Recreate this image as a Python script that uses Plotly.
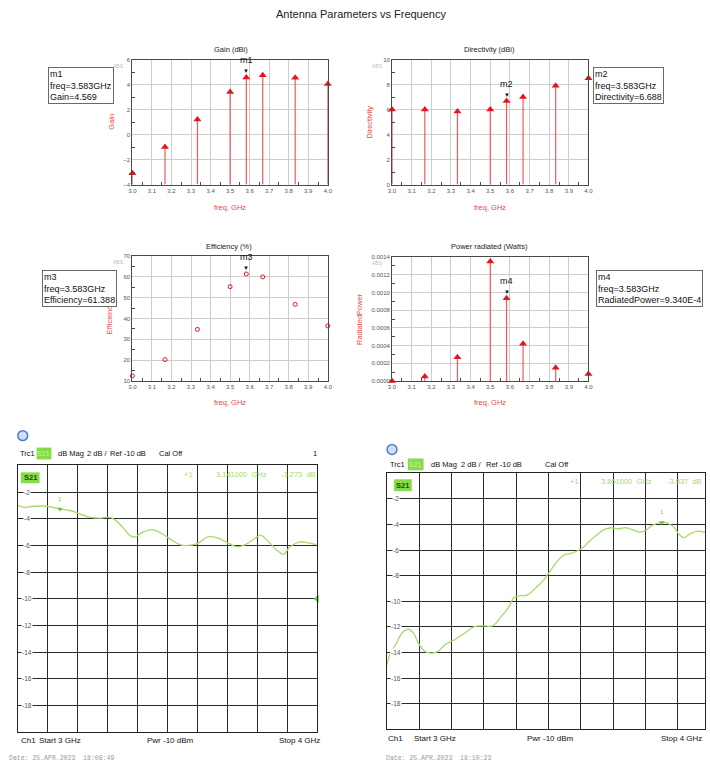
import plotly.graph_objects as go

# ---------------- simulated antenna parameters (ADS sweep) ----------------
FREQ_GHZ = [3.0, 3.167, 3.333, 3.5, 3.583, 3.667, 3.833, 4.0]
GAIN_DBI = [-3.1, -1.0, 1.2, 3.4, 4.569, 4.75, 4.55, 4.05]
DIRECTIVITY_DBI = [6.0, 6.0, 5.85, 6.0, 6.688, 7.0, 7.9, 8.5]
EFFICIENCY_PCT = [12.5, 20.3, 34.8, 55.3, 61.388, 60.0, 46.8, 36.5]
RADIATED_POWER_W = [0.0, 0.00005, 0.00027, 0.00135, 0.000934, 0.00042, 0.00015, 0.00008]
MARKER_IDX = 4  # 3.583 GHz

# ---------------- measured S21 (VNA screenshots) ----------------
S21_A_FREQ = [3.0, 3.020, 3.053, 3.097, 3.141, 3.174, 3.207, 3.240, 3.273, 3.305,
              3.327, 3.349, 3.377, 3.393, 3.415, 3.448, 3.481, 3.514, 3.547, 3.580,
              3.602, 3.635, 3.668, 3.701, 3.734, 3.756, 3.789, 3.811, 3.833, 3.866,
              3.888, 3.910, 3.943, 3.965, 3.998]
S21_A_DB = [-3.0, -3.14, -3.06, -3.06, -3.273, -3.38, -3.63, -3.88, -3.95, -3.88,
            -4.12, -4.6, -5.28, -5.36, -5.04, -4.81, -5.1, -5.6, -5.98, -5.98,
            -5.85, -5.36, -5.43, -5.8, -6.1, -5.98, -5.53, -5.23, -5.6, -6.35,
            -6.67, -6.1, -5.73, -5.78, -5.93]
S21_A_MARKER = (3.141, -3.273)

S21_B_FREQ = [3.0, 3.010, 3.026, 3.046, 3.066, 3.082, 3.097, 3.117, 3.138, 3.158,
              3.179, 3.209, 3.240, 3.270, 3.301, 3.327, 3.352, 3.378, 3.393, 3.413,
              3.434, 3.464, 3.485, 3.500, 3.526, 3.546, 3.566, 3.587, 3.607, 3.628,
              3.648, 3.668, 3.689, 3.719, 3.740, 3.760, 3.781, 3.801, 3.821, 3.851,
              3.872, 3.888, 3.903, 3.918, 3.939, 3.959, 3.985]
S21_B_DB = [-14.95, -14.04, -13.4, -12.49, -12.18, -12.49, -13.26, -13.91, -14.04, -13.91,
            -13.39, -13.0, -12.49, -11.97, -11.92, -11.92, -11.24, -10.41, -9.71, -9.56,
            -9.51, -8.86, -8.34, -7.82, -6.92, -6.40, -6.27, -6.09, -5.80, -5.28,
            -4.84, -4.46, -4.27, -4.33, -4.25, -4.40, -4.59, -4.46, -4.07, -3.837,
            -3.94, -4.2, -4.72, -5.03, -4.72, -4.53, -4.59]
S21_B_MARKER = (3.851, -3.837)

VNA_Y_TICKS = [-2, -4, -6, -8, -10, -12, -14, -16, -18]

W, H = 710, 775
FONT = "Liberation Sans"
RED = "#e8141c"
STEM = "#ec5a5a"
AX_RED = "#e44a4a"
TRACE_GREEN = "#a6da6a"
BOX_GREEN = "#86dc48"


def px(x):
    return x / W


def py(y):
    return 1 - y / H


fig = go.Figure()
ann = []
shapes = []


def text(x, y, s, size=9, color="#111", xanchor="left", yanchor="middle", family=FONT, **kw):
    ann.append(dict(x=px(x), y=py(y), xref="paper", yref="paper", text=s, showarrow=False,
                    xanchor=xanchor, yanchor=yanchor,
                    font=dict(size=size, color=color, family=family), **kw))


def ads_panel(n, box, yrange, ydtick, yfmt, yminor, title, ytitle, tpos, ytpos, xtpos):
    x0, y0, x1, y1 = box
    common = dict(showline=True, linecolor="#4a4a4a", linewidth=1, mirror=True,
                  showgrid=True, gridcolor="#cdcdcd", gridwidth=1, zeroline=False,
                  tickfont=dict(size=6, color="#555", family=FONT), ticks="", fixedrange=True)
    fig.layout[f"xaxis{n}"] = dict(domain=[px(x0), px(x1)], anchor=f"y{n}", range=[3.0, 4.0],
                                   dtick=0.1, tick0=3.0, tickformat=".1f",
                                   minor=dict(ticks="inside", ticklen=3, dtick=0.05,
                                              tickcolor="#4a4a4a", showgrid=False),
                                   **common)
    fig.layout[f"yaxis{n}"] = dict(domain=[py(y1), py(y0)], anchor=f"x{n}", range=yrange,
                                   dtick=ydtick, tick0=yrange[0], tickformat=yfmt,
                                   minor=dict(ticks="inside", ticklen=3, dtick=yminor,
                                              tickcolor="#4a4a4a", showgrid=False),
                                   **common)
    text(tpos[0], tpos[1], title, size=7.5, color="#222", xanchor="center")
    ann.append(dict(x=px(ytpos[0]), y=py(ytpos[1]), xref="paper", yref="paper", text=ytitle,
                    textangle=-90, showarrow=False, xanchor="center", yanchor="middle",
                    font=dict(size=7.5, color=AX_RED, family=FONT)))
    text(xtpos[0], xtpos[1], "freq, GHz", size=7.5, color=AX_RED, xanchor="center")
    text(x0 - 22, y0 + 6, "ABS", size=5, color="#bbbbbb")


def stems(n, values, ymin):
    fig.add_trace(go.Scatter(
        x=FREQ_GHZ, y=values, xaxis=f"x{n}", yaxis=f"y{n}", mode="markers",
        marker=dict(symbol="triangle-up", size=7, color=RED),
        error_y=dict(type="data", symmetric=False, array=[0] * len(values),
                     arrayminus=[v - ymin for v in values], width=0, thickness=1.2, color=STEM),
        cliponaxis=False, showlegend=False, hoverinfo="skip"))


def ads_marker(n, name, x, y):
    ann.append(dict(x=x, y=y, xref=f"x{n}", yref=f"y{n}", text="▼", showarrow=False,
                    yshift=6, borderpad=0, font=dict(size=6, color="#111"), xanchor="center"))
    ann.append(dict(x=x, y=y, xref=f"x{n}", yref=f"y{n}", text=name, showarrow=False,
                    yshift=17, borderpad=0, font=dict(size=9, color="#111", family=FONT),
                    xanchor="center"))


def marker_box(x, y, lines):
    ann.append(dict(x=px(x), y=py(y), xref="paper", yref="paper", text="<br>".join(lines),
                    showarrow=False, xanchor="left", yanchor="top", align="left",
                    bordercolor="#6a6a6a", borderwidth=1, borderpad=1, bgcolor="white",
                    font=dict(size=9, color="#111", family=FONT)))


# figure title
text(362, 11, "Antenna Parameters vs Frequency", size=11, color="#222", xanchor="center")

# ---- Gain ----
ads_panel(1, (130, 57, 328, 183), [-4, 6], 2, "d", 1, "Gain (dBi)", "Gain",
          (230, 47), (108, 120), (229, 206))
stems(1, GAIN_DBI, -4)
ads_marker(1, "m1", FREQ_GHZ[MARKER_IDX], GAIN_DBI[MARKER_IDX])
marker_box(45, 64, ["m1", f"freq={FREQ_GHZ[MARKER_IDX]:.3f}GHz", f"Gain={GAIN_DBI[MARKER_IDX]:.3f}"])

# ---- Directivity ----
ads_panel(2, (393, 57, 592, 183), [0, 10], 2, "d", 1, "Directivity (dBi)", "Directivity",
          (492, 47), (370, 120), (492, 206))
stems(2, DIRECTIVITY_DBI, 0)
ads_marker(2, "m2", FREQ_GHZ[MARKER_IDX], DIRECTIVITY_DBI[MARKER_IDX])
marker_box(597, 64, ["m2", f"freq={FREQ_GHZ[MARKER_IDX]:.3f}GHz",
                     f"Directivity={DIRECTIVITY_DBI[MARKER_IDX]:.3f}"])

# ---- Efficiency ----
ads_panel(3, (130, 255, 328, 381), [10, 70], 10, "d", 5, "Efficiency (%)", "Efficiency",
          (228, 245), (107, 318), (229, 403))
fig.add_trace(go.Scatter(x=FREQ_GHZ, y=EFFICIENCY_PCT, xaxis="x3", yaxis="y3", mode="markers",
                         marker=dict(symbol="circle-open", size=4, color=RED, line=dict(width=1)),
                         cliponaxis=False, showlegend=False, hoverinfo="skip"))
ads_marker(3, "m3", FREQ_GHZ[MARKER_IDX], EFFICIENCY_PCT[MARKER_IDX])
marker_box(38, 269, ["m3", f"freq={FREQ_GHZ[MARKER_IDX]:.3f}GHz",
                     f"Efficiency={EFFICIENCY_PCT[MARKER_IDX]:.3f}"])

# ---- Radiated power ----
ads_panel(4, (393, 256, 592, 381), [0, 0.0014], 0.0002, ".4f", 0.0001, "Power radiated (Watts)",
          "RadiatedPower", (492, 245), (360, 318), (492, 403))
stems(4, RADIATED_POWER_W, 0)
ads_marker(4, "m4", FREQ_GHZ[MARKER_IDX], RADIATED_POWER_W[MARKER_IDX])
mant, expo = f"{RADIATED_POWER_W[MARKER_IDX]:.3E}".split("E")
marker_box(600, 269, ["m4", f"freq={FREQ_GHZ[MARKER_IDX]:.3f}GHz",
                      f"RadiatedPower={mant}E{int(expo)}"])


# ---------------- VNA screens ----------------
def vna_panel(n, box, xmax, freq, db, mk, hdr, info, bottom, date):
    x0, y0, x1, y1 = box
    common = dict(showline=True, linecolor="#222", linewidth=1, mirror=True, showgrid=True,
                  gridcolor="#2a2a2a", gridwidth=1, zeroline=False, showticklabels=False,
                  ticks="", fixedrange=True)
    fig.layout[f"xaxis{n}"] = dict(domain=[px(x0), px(x1)], anchor=f"y{n}", range=[3.0, xmax],
                                   dtick=0.1, tick0=3.0, **common)
    fig.layout[f"yaxis{n}"] = dict(domain=[py(y1), py(y0)], anchor=f"x{n}", range=[-20, 0],
                                   dtick=2, tick0=0, **common)
    fig.add_trace(go.Scatter(x=freq, y=db, xaxis=f"x{n}", yaxis=f"y{n}", mode="lines",
                             line=dict(color=TRACE_GREEN, width=1.3, shape="spline", smoothing=1.0),
                             showlegend=False, hoverinfo="skip"))
    fig.add_trace(go.Scatter(x=[mk[0]], y=[mk[1]], xaxis=f"x{n}", yaxis=f"y{n}", mode="markers",
                             marker=dict(symbol="triangle-down", size=5, color="#6cc83a"),
                             showlegend=False, hoverinfo="skip"))
    ann.append(dict(x=mk[0], y=mk[1], xref=f"x{n}", yref=f"y{n}", text="1", showarrow=False,
                    yshift=10, font=dict(size=6, color="#6cc83a", family=FONT)))
    for t in VNA_Y_TICKS:
        ann.append(dict(x=px(x0 + 9), y=t, xref="paper", yref=f"y{n}", text=str(t),
                        showarrow=False, xanchor="center", bgcolor="white", borderpad=0,
                        font=dict(size=6.5, color="#555", family=FONT)))
    # instrument logo
    lx, ly = hdr["logo"]
    shapes.append(dict(type="circle", xref="paper", yref="paper", x0=px(lx - 5), x1=px(lx + 5),
                       y0=py(ly + 5), y1=py(ly - 5), line=dict(color="#4a7cc8", width=1.5),
                       fillcolor="#cfe0f5"))
    # header line
    hy = hdr["y"]
    text(hdr["trc"], hy, "Trc1", size=7.5)
    bx0, bx1 = hdr["box"]
    shapes.append(dict(type="rect", xref="paper", yref="paper", x0=px(bx0), x1=px(bx1),
                       y0=py(hy + 6), y1=py(hy - 6), fillcolor=BOX_GREEN, line=dict(width=0)))
    text((bx0 + bx1) / 2, hy, "S21", size=7, color="#c6f29a", xanchor="center")
    mx = hdr["mag"]
    text(mx[0], hy, "dB Mag", size=7.5)
    text(mx[1], hy, "2 dB /", size=7.5)
    text(mx[2], hy, "Ref -10 dB", size=7.5)
    text(hdr["cal"], hy, "Cal Off", size=7.5)
    if hdr.get("one"):
        text(hdr["one"], hy, "1", size=7.5, xanchor="center")
    # S21 label inside grid
    sx0, sy0, sx1, sy1 = hdr["s21"]
    shapes.append(dict(type="rect", xref="paper", yref="paper", x0=px(sx0), x1=px(sx1),
                       y0=py(sy1), y1=py(sy0), fillcolor=BOX_GREEN, line=dict(width=0)))
    text((sx0 + sx1) / 2, (sy0 + sy1) / 2, "<b>S21</b>", size=7.5, color="#1d4a10", xanchor="center")
    # marker readout
    iy = info["y"]
    text(info["p1"], iy, "+1", size=7.5, color=TRACE_GREEN, xanchor="center")
    text(info["f"], iy, f"{mk[0]:.6f}  GHz", size=7.5, color=TRACE_GREEN)
    text(info["v"], iy, f"{mk[1]:.3f}  dB", size=7.5, color=TRACE_GREEN, xanchor=info.get("va", "left"))
    # footer
    by = bottom["y"]
    text(bottom["ch"], by, "Ch1", size=8)
    text(bottom["start"], by, "Start 3 GHz", size=8)
    text(bottom["pwr"], by, "Pwr -10 dBm", size=8)
    text(bottom["stop"], by, "Stop 4 GHz", size=8, xanchor=bottom.get("sa", "left"))
    text(date[0], date[1], date[2], size=6.5, color="#9a9a9a", family="Liberation Mono")


vna_panel(5, (14, 466, 317, 735), 4.0, S21_A_FREQ, S21_A_DB, S21_A_MARKER,
          dict(logo=(19, 436), y=454, trc=14, box=(33, 48), mag=(53, 82, 105), cal=155, one=315,
               s21=(17, 473, 36, 484)),
          dict(y=475, p1=187, f=213, v=279),
          dict(y=743, ch=15, start=33, pwr=143, stop=277),
          (3, 761, "Date: 25.APR.2023  18:08:49"))
# reference-level pointer on the right edge of the first screen
fig.add_trace(go.Scatter(x=[4.0], y=[-10], xaxis="x5", yaxis="y5", mode="markers",
                         marker=dict(symbol="triangle-left", size=7, color="#6cc83a"),
                         cliponaxis=False, showlegend=False, hoverinfo="skip"))

vna_panel(6, (388, 474, 710, 732), 3.0 + (710 - 388) / 327, S21_B_FREQ, S21_B_DB, S21_B_MARKER,
          dict(logo=(393, 450), y=465, trc=389, box=(409, 425), mag=(430, 461, 486), cal=546,
               one=None, s21=(395, 480, 413, 492)),
          dict(y=482, p1=578, f=603, v=709, va="right"),
          dict(y=741, ch=387, start=413, pwr=528, stop=709, sa="right"),
          (385, 761, "Date: 25.APR.2023  18:10:23"))

fig.update_layout(width=W, height=H, margin=dict(l=0, r=0, t=0, b=0),
                  paper_bgcolor="white", plot_bgcolor="white",
                  annotations=ann, shapes=shapes, showlegend=False)

fig.write_html("out.html")
